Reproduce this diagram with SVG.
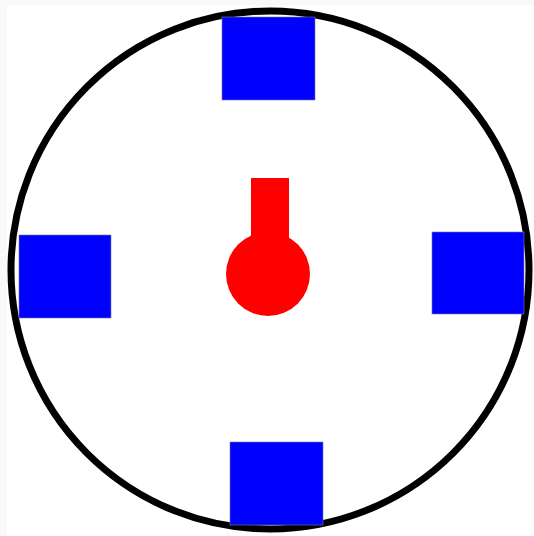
<svg xmlns="http://www.w3.org/2000/svg" width="534" height="536" viewBox="0 0 534 536">
<style>
.sq{fill:#0000ff;stroke:#7a7a9a;stroke-width:0.6}
.red{fill:#ff0000}
</style>
<rect x="0" y="0" width="534" height="536" fill="#f9f9f9"/>
<rect x="7" y="5" width="527" height="531" fill="#ffffff"/>
<g id="ring"><circle cx="270" cy="270" r="259" fill="none" stroke="#000000" stroke-width="7"/></g>
<g id="connectors"></g>
<g id="top"><rect class="sq" x="222" y="17" width="93" height="83"/></g>
<g id="left"><rect class="sq" x="19" y="235" width="92" height="83"/></g>
<g id="right"><rect class="sq" x="432" y="232" width="92" height="82"/></g>
<g id="bottom"><rect class="sq" x="230" y="442" width="93" height="83"/></g>
<g id="center">
<rect class="red" x="251" y="178" width="38" height="80"/>
<circle class="red" cx="268" cy="274" r="42"/>
</g>
</svg>
